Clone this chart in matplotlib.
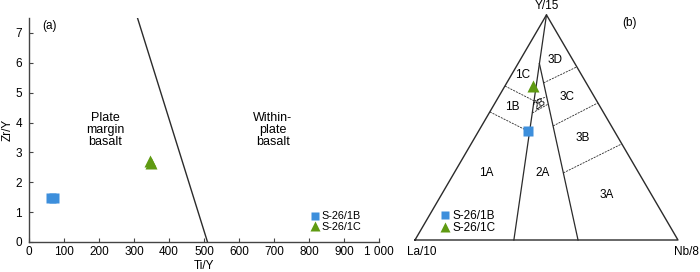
import matplotlib
matplotlib.use("Agg")
import matplotlib.pyplot as plt
from matplotlib.lines import Line2D

plt.rcParams['font.family'] = ['Liberation Sans', 'DejaVu Sans']
plt.rcParams['font.size'] = 8.5

BLUE = '#3d8fdc'
GREEN = '#5f9a12'
INK = '#2b2b2b'

# ---- (a) Ti/Y vs Zr/Y ----
tiy_1b = [64, 70]
zry_1b = [1.47, 1.47]
tiy_1c = [345, 350]
zry_1c = [2.72, 2.65]
boundary_tiy = [310, 510]
boundary_zry = [7.5, 0]
xticks_a = [0, 100, 200, 300, 400, 500, 600, 700, 800, 900, 1000]
xtick_labels_a = ['0', '100', '200', '300', '400', '500', '600', '700', '800', '900', '1 000']
yticks_a = [0, 1, 2, 3, 4, 5, 6, 7]

# ---- (b) La/10 - Y/15 - Nb/8, compositions as (La, Y, Nb) fractions ----
sample_1b = (0.327, 0.484, 0.189)
sample_1c = (0.208, 0.684, 0.108)
main_lines = [
    [(0.0, 1.0, 0.0), (0.624, 0.0, 0.376)],
    [(0.135, 0.784, 0.081), (0.380, 0.0, 0.620)],
]
dashed_lines = [
    [(0.316, 0.684, 0.0), (0.238, 0.618, 0.144)],   # 1C / 1B
    [(0.431, 0.569, 0.0), (0.324, 0.480, 0.196)],   # 1B / 1A
    [(0.238, 0.618, 0.144), (0.181, 0.636, 0.183)],  # 2B top
    [(0.272, 0.564, 0.164), (0.191, 0.604, 0.205)],  # 2B bottom
    [(0.162, 0.698, 0.140), (0.0, 0.769, 0.231)],   # 3D / 3C
    [(0.222, 0.507, 0.272), (0.0, 0.609, 0.391)],   # 3C / 3B
    [(0.287, 0.298, 0.415), (0.0, 0.427, 0.573)],   # 3B / 3A
]
region_names = ['1C', '1B', '2B', '3D', '3C', '3B', '1A', '2A', '3A']
region_xy = [(0.411, 0.627), (0.369, 0.506), (0.476, 0.519), (0.532, 0.684),
             (0.578, 0.544), (0.639, 0.388), (0.270, 0.255), (0.487, 0.255),
             (0.730, 0.171)]
region_rot = [0, 0, 35, 0, 0, 0, 0, 0, 0]
region_size = [8.5, 8.5, 7.2, 8.5, 8.5, 8.5, 8.5, 8.5, 8.5]

H = 0.856


def tern(p):
    la, y, nb = p
    s = la + y + nb
    return (0.5 * y + nb) / s, H * y / s


fig = plt.figure(figsize=(7.0, 2.72), dpi=100)

# panel a
ax = fig.add_axes([29 / 700, 30 / 272, 350 / 700, 224 / 272])
ax.plot(boundary_tiy, boundary_zry, color=INK, lw=1.0)
ax.plot(tiy_1b, zry_1b, 's', color=BLUE, ms=7.5, mec='none', label='S-26/1B')
ax.plot(tiy_1c, zry_1c, '^', color=GREEN, ms=8.5, mec='none', label='S-26/1C')
ax.set_xlim(0, 1000)
ax.set_ylim(0, 7.5)
ax.set_xticks(xticks_a)
ax.set_xticklabels(xtick_labels_a)
ax.set_yticks(yticks_a)
for s in ['top', 'right']:
    ax.spines[s].set_visible(False)
for s in ['left', 'bottom']:
    ax.spines[s].set_color('#444444')
    ax.spines[s].set_linewidth(1.0)
ax.tick_params(direction='in', length=3, width=0.8, color='#444444', labelsize=8.5)
ax.tick_params(axis='x', pad=3)
ax.tick_params(axis='y', pad=5)
ax.set_xlabel('Ti/Y', labelpad=1)
ax.set_ylabel('Zr/Y', labelpad=1)
ax.text(38, 7.22, '(a)', ha='left', va='center')
ax.text(217, 3.75, 'Plate\nmargin\nbasalt', ha='center', va='center', linespacing=1.05, fontsize=9)
ax.text(697, 3.75, 'Within-\nplate\nbasalt', ha='center', va='center', linespacing=1.05, fontsize=9)
h_b = Line2D([], [], marker='s', ls='none', color=BLUE, ms=6, mec='none')
h_c = Line2D([], [], marker='^', ls='none', color=GREEN, ms=7, mec='none')
ax.legend([h_b, h_c], ['S-26/1B', 'S-26/1C'], loc='lower left', bbox_to_anchor=(0.806, 0.045),
          frameon=False, borderpad=0, borderaxespad=0, handlelength=0.7, handletextpad=0.3,
          labelspacing=0.05, fontsize=7.8)

# panel b
bx = fig.add_axes([388.7 / 700, 5.7 / 272, 310.3 / 700, 263 / 272])
bx.set_xlim(-0.1, 1.08)
bx.set_ylim(-0.1, 0.9)
bx.axis('off')

corners = [(1, 0, 0), (0, 1, 0), (0, 0, 1), (1, 0, 0)]
cx, cy = zip(*[tern(p) for p in corners])
bx.plot(cx, cy, color=INK, lw=1.0)
for seg in main_lines:
    sx, sy = zip(*[tern(p) for p in seg])
    bx.plot(sx, sy, color=INK, lw=0.9)
for seg in dashed_lines:
    sx, sy = zip(*[tern(p) for p in seg])
    bx.plot(sx, sy, color=INK, lw=0.6, ls=(0, (2.5, 1.2)))
for name, (x, y), r, fs in zip(region_names, region_xy, region_rot, region_size):
    bx.text(x, y, name, ha='center', va='center', rotation=r, fontsize=fs)

px, py = tern(sample_1b)
bx.plot(px, py, 's', color=BLUE, ms=7.5, mec='none')
px, py = tern(sample_1c)
bx.plot(px, py, '^', color=GREEN, ms=8.5, mec='none')

bx.text(0.5, H + 0.01, 'Y/15', ha='center', va='bottom')
bx.text(0.026, -0.045, 'La/10', ha='center', va='center')
bx.text(1.034, -0.045, 'Nb/8', ha='center', va='center')
bx.text(0.817, 0.825, '(b)', ha='center', va='center')
bx.legend([h_b, h_c], ['S-26/1B', 'S-26/1C'], loc='lower left', bbox_to_anchor=(0.168, 0.122),
          frameon=False, borderpad=0, borderaxespad=0, handlelength=0.7, handletextpad=0.3,
          labelspacing=0.0, fontsize=8.5)

fig.savefig('out.png', dpi=100)
